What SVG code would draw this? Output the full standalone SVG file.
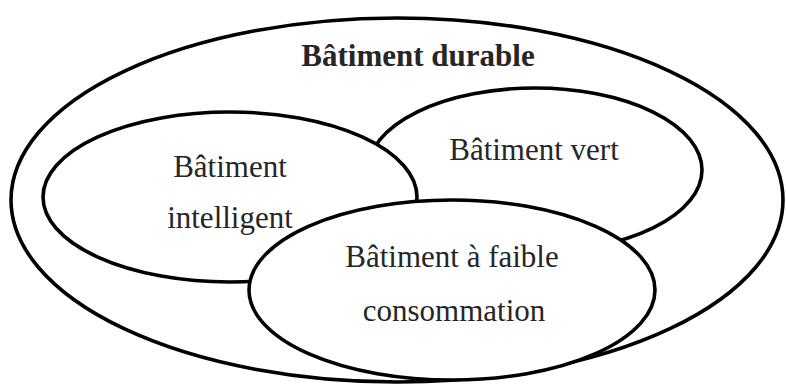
<svg xmlns="http://www.w3.org/2000/svg" width="786" height="385" viewBox="0 0 786 385">
  <style>
    .set { fill: #ffffff; stroke: #000000; stroke-width: 3.6; }
    .label { font-family: "Liberation Serif", "Times New Roman", serif; font-size: 31px; fill: #262626; text-anchor: middle; }
    .title { font-weight: bold; }
  </style>
  <rect width="786" height="385" fill="#ffffff"/>

  <!-- outer set: sustainable building -->
  <g id="batiment-durable">
    <ellipse class="set" cx="397" cy="200" rx="386" ry="182"/>
    <text class="label title" x="418" y="66">Bâtiment durable</text>
  </g>

  <!-- green building (drawn first, partly hidden by the others) -->
  <g id="batiment-vert">
    <ellipse class="set" cx="535" cy="170" rx="167" ry="82"/>
    <text class="label" x="534" y="160">Bâtiment vert</text>
  </g>

  <!-- smart building -->
  <g id="batiment-intelligent">
    <ellipse class="set" cx="230" cy="197" rx="187" ry="85"/>
    <text class="label" x="230" y="177">Bâtiment</text>
    <text class="label" x="230" y="228">intelligent</text>
  </g>

  <!-- low-consumption building (on top) -->
  <g id="batiment-faible-consommation">
    <ellipse class="set" cx="452" cy="290" rx="203" ry="90"/>
    <text class="label" x="452" y="267">Bâtiment à faible</text>
    <text class="label" x="454" y="321">consommation</text>
  </g>
</svg>
